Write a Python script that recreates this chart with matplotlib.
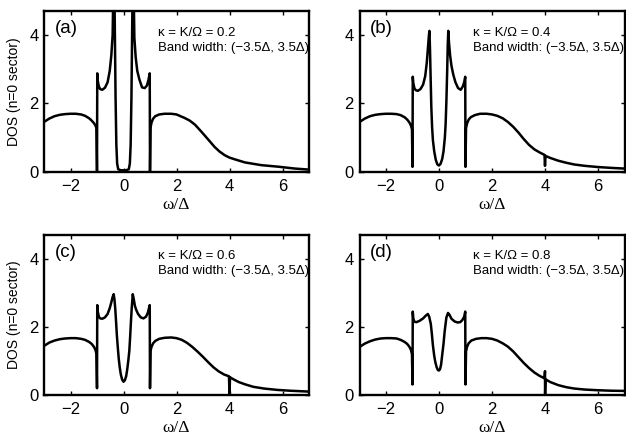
import numpy as np
import matplotlib
matplotlib.use('Agg')
from matplotlib import pyplot as plt

plt.rcParams['font.family'] = ['Liberation Sans', 'DejaVu Sans']

# panel (a) kappa = 0.2
xa = [-3.0, -2.8, -2.6, -2.4, -2.2, -2.0, -1.8, -1.6, -1.45, -1.3, -1.2, -1.12, -1.06, -1.02, -1.0,
      -0.99, -0.97, -0.93, -0.88, -0.8, -0.7, -0.6, -0.52, -0.46, -0.41, -0.36, -0.33, -0.3, -0.27,
      -0.24, -0.2, -0.1, 0.0, 0.1, 0.2, 0.24, 0.27, 0.3, 0.33, 0.36, 0.41, 0.46, 0.52, 0.6, 0.7,
      0.8, 0.88, 0.94, 0.99, 1.0, 1.02, 1.06, 1.12, 1.2, 1.35, 1.55, 1.8, 2.0, 2.3, 2.5, 2.7, 2.9,
      3.06, 3.25, 3.44, 3.62, 3.82, 4.0, 4.2, 4.58, 5.2, 5.84, 6.47, 7.0]
ya = [1.46, 1.56, 1.63, 1.67, 1.69, 1.70, 1.70, 1.68, 1.64, 1.57, 1.50, 1.43, 1.36, 1.28, 0.0,
      2.88, 2.65, 2.50, 2.42, 2.40, 2.46, 2.62, 2.95, 3.4, 4.0, 6.5, 4.4, 2.2, 0.8,
      0.25, 0.08, 0.05, 0.05, 0.05, 0.08, 0.25, 0.8, 2.2, 4.4, 6.5, 3.92, 3.35, 2.95, 2.7, 2.47,
      2.45, 2.52, 2.68, 2.88, 0.0, 1.3, 1.45, 1.56, 1.63, 1.68, 1.70, 1.70, 1.68, 1.58, 1.5, 1.38, 1.21,
      1.07, 0.9, 0.73, 0.6, 0.49, 0.42, 0.37, 0.28, 0.2, 0.155, 0.1, 0.07]

# panel (b) kappa = 0.4
xb = [-3.0, -2.8, -2.6, -2.4, -2.2, -2.0, -1.8, -1.6, -1.45, -1.3, -1.2, -1.12, -1.06, -1.02, -1.0,
      -0.99, -0.97, -0.93, -0.88, -0.8, -0.7, -0.6, -0.52, -0.46, -0.42, -0.38, -0.36, -0.34, -0.32,
      -0.29, -0.26, -0.23, -0.18, -0.12, -0.06, 0.0, 0.06, 0.12, 0.17, 0.22, 0.25, 0.28, 0.31, 0.33,
      0.35, 0.38, 0.42, 0.47, 0.54, 0.62, 0.72, 0.82, 0.9, 0.95, 0.99, 1.0, 1.02, 1.06, 1.12, 1.2,
      1.35, 1.55, 1.8, 2.0, 2.2, 2.4, 2.6, 2.8, 3.0, 3.2, 3.4, 3.6, 3.8, 3.98, 4.0, 4.02, 4.2, 4.5,
      4.8, 5.1, 5.5, 6.0, 6.5, 7.0]
yb = [1.46, 1.56, 1.63, 1.67, 1.69, 1.70, 1.70, 1.69, 1.66, 1.6, 1.53, 1.45, 1.36, 1.25, 0.15,
      2.78, 2.6, 2.45, 2.39, 2.37, 2.42, 2.55, 2.8, 3.2, 3.6, 4.0, 4.12, 3.6, 2.9,
      1.9, 1.3, 0.93, 0.6, 0.35, 0.22, 0.19, 0.24, 0.38, 0.6, 1.0, 1.4, 2.09, 3.0, 3.7,
      4.12, 3.75, 3.4, 3.1, 2.84, 2.62, 2.45, 2.4, 2.5, 2.62, 2.78, 0.15, 1.28, 1.42, 1.53, 1.6,
      1.66, 1.7, 1.7, 1.68, 1.64, 1.57, 1.46, 1.32, 1.15, 0.96, 0.79, 0.66, 0.57, 0.5, 0.18, 0.47, 0.41, 0.33,
      0.27, 0.22, 0.18, 0.145, 0.12, 0.1]

# panel (c) kappa = 0.6
xc = [-3.0, -2.8, -2.6, -2.4, -2.2, -2.0, -1.8, -1.6, -1.45, -1.3, -1.2, -1.12, -1.06, -1.02, -1.0,
      -0.99, -0.97, -0.93, -0.88, -0.8, -0.7, -0.6, -0.52, -0.46, -0.41, -0.37, -0.34, -0.31, -0.28,
      -0.25, -0.21, -0.18, -0.14, -0.1, -0.05, 0.0, 0.05, 0.1, 0.14, 0.18, 0.22, 0.25, 0.28, 0.31,
      0.35, 0.39, 0.43, 0.48, 0.55, 0.65, 0.75, 0.85, 0.92, 0.99, 1.0, 1.02, 1.06, 1.12, 1.2, 1.35,
      1.55, 1.8, 2.0, 2.2, 2.4, 2.6, 2.8, 3.0, 3.2, 3.4, 3.6, 3.8, 3.98, 4.0, 4.02, 4.15, 4.35, 4.6,
      4.9, 5.3, 5.8, 6.3, 7.0]
yc = [1.44, 1.54, 1.6, 1.64, 1.66, 1.67, 1.67, 1.65, 1.62, 1.56, 1.5, 1.42, 1.33, 1.2, 0.2,
      2.64, 2.45, 2.3, 2.25, 2.24, 2.28, 2.38, 2.55, 2.72, 2.88, 2.96, 2.8, 2.52, 2.15,
      1.75, 1.35, 1.07, 0.8, 0.6, 0.45, 0.39, 0.43, 0.55, 0.75, 1.0, 1.3, 1.7, 2.14, 2.55,
      2.96, 2.8, 2.62, 2.5, 2.38, 2.28, 2.25, 2.3, 2.42, 2.64, 0.2, 1.3, 1.42, 1.52, 1.59, 1.65,
      1.68, 1.69, 1.67, 1.62, 1.53, 1.41, 1.27, 1.12, 0.96, 0.81, 0.69, 0.6, 0.55, 0.03, 0.52, 0.46, 0.38, 0.31,
      0.24, 0.19, 0.15, 0.125, 0.1]

# panel (d) kappa = 0.8
xd = [-3.0, -2.8, -2.6, -2.4, -2.2, -2.0, -1.8, -1.6, -1.45, -1.3, -1.2, -1.12, -1.06, -1.02, -1.0,
      -0.99, -0.97, -0.93, -0.85, -0.73, -0.6, -0.5, -0.42, -0.37, -0.31, -0.27, -0.23, -0.18, -0.14,
      -0.09, -0.04, 0.0, 0.04, 0.08, 0.12, 0.17, 0.21, 0.25, 0.28, 0.34, 0.4, 0.47, 0.59, 0.7, 0.8,
      0.88, 0.95, 0.99, 1.0, 1.02, 1.06, 1.12, 1.22, 1.4, 1.6, 1.8, 2.0, 2.2, 2.4, 2.6, 2.8, 3.0,
      3.2, 3.4, 3.6, 3.8, 3.98, 4.0, 4.003, 4.02, 4.2, 4.5, 4.8, 5.1, 5.5, 6.0, 6.5, 7.0]
yd = [1.41, 1.51, 1.58, 1.63, 1.66, 1.67, 1.67, 1.66, 1.62, 1.56, 1.5, 1.42, 1.33, 1.2, 0.31,
      2.45, 2.25, 2.15, 2.14, 2.18, 2.25, 2.33, 2.38, 2.3, 2.09, 1.8, 1.46, 1.15, 0.97,
      0.82, 0.73, 0.72, 0.76, 0.9, 1.17, 1.5, 1.84, 2.1, 2.28, 2.41, 2.35, 2.24, 2.16, 2.13, 2.14,
      2.2, 2.3, 2.45, 0.31, 1.28, 1.42, 1.52, 1.6, 1.65, 1.67, 1.67, 1.65, 1.6, 1.52, 1.42, 1.28, 1.11,
      0.94, 0.79, 0.66, 0.56, 0.49, 0.7, 0.0, 0.46, 0.38, 0.29, 0.23, 0.19, 0.16, 0.14, 0.126, 0.12]

tags = ['(a)', '(b)', '(c)', '(d)']
kappas = ['0.2', '0.4', '0.6', '0.8']
xticks = [-2, 0, 2, 4, 6]
yticks = [0, 2, 4]

W, H = 626, 440
fig = plt.figure(figsize=(W / 100, H / 100), dpi=100)

# axes boxes in pixels: left, right, top, bottom
boxes = [(44, 309, 11, 172), (359.5, 624.5, 11, 172),
         (44, 309, 235, 395), (359.5, 624.5, 235, 395)]
data = [(xa, ya), (xb, yb), (xc, yc), (xd, yd)]

for i, (l, r, t, b) in enumerate(boxes):
    ax = fig.add_axes([l / W, (H - b) / H, (r - l) / W, (b - t) / H])
    x, y = data[i]
    ax.plot(x, y, color='black', lw=1.8)
    ax.set_xlim(-3, 7)
    ax.set_ylim(0, 4.7)
    ax.set_xticks(xticks)
    ax.set_yticks(yticks)
    ax.set_xticklabels(['\u22122', '0', '2', '4', '6'])
    ax.tick_params(direction='in', top=True, right=True, length=3, width=1,
                   labelsize=12, pad=5)
    ax.tick_params(axis='y', pad=4)
    for s in ax.spines.values():
        s.set_linewidth(1.7)
    ax.set_xlabel('\u03c9/\u0394', family='Liberation Serif', fontsize=12.5, labelpad=2)
    if i % 2 == 0:
        ax.set_ylabel('DOS (n=0 sector)', fontsize=10, labelpad=6)
    ax.text(-2.6, 4.2, tags[i], fontsize=13.5, va='center', ha='left')
    ax.text(1.3, 4.07, '\u03ba = K/\u03a9 = ' + kappas[i], fontsize=9.5, va='center', ha='left')
    ax.text(1.3, 3.63, 'Band width: (\u22123.5\u0394, 3.5\u0394)', fontsize=9.5,
            va='center', ha='left')

fig.savefig('out.png', dpi=100)
